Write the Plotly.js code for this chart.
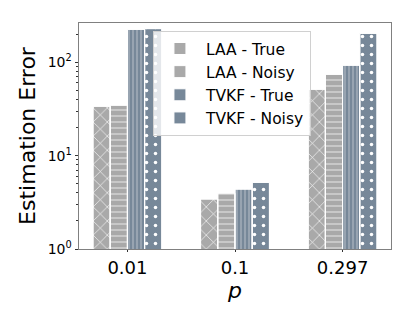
<!DOCTYPE html>
<html>
<head>
<meta charset="utf-8">
<script src="https://cdn.plot.ly/plotly-3.0.1.min.js"></script>
<style>
  html, body { margin: 0; padding: 0; background: #fff; }
  #chart { width: 415px; height: 320px; }
</style>
</head>
<body>
<div id="chart"></div>
<script>
// values (log scale)
const pValues = ['0.01', '0.1', '0.297'];
const laaTrue = [33.8, 3.43, 51.4];
const laaNoisy = [34.7, 3.97, 74.4];
const tvkfTrue = [225, 4.38, 92.9];
const tvkfNoisy = [229, 5.17, 204];
const yTickVals = [1, 10, 100];
const yTickText = ['10<sup>0</sup>', '10<sup>1</sup>', '10<sup>2</sup>'];
const yMinorVals = [2, 3, 4, 5, 6, 7, 8, 9, 20, 30, 40, 50, 60, 70, 80, 90, 200];

const laaColor = '#a9a9a9';
const tvkfColor = '#778899';
const barWidth = 0.16;

const series = [
    { name: 'LAA - True', values: laaTrue, color: laaColor, shape: 'x', size: 10 },
    { name: 'LAA - Noisy', values: laaNoisy, color: laaColor, shape: '-', size: 6 },
    { name: 'TVKF - True', values: tvkfTrue, color: tvkfColor, shape: '|', size: 4 },
    { name: 'TVKF - Noisy', values: tvkfNoisy, color: tvkfColor, shape: '.', size: 9 }
];

// solid bars underneath (these carry the legend), hatch layer on top
const traces = [];
series.forEach((s, i) => {
    const offset = -2 * barWidth + i * barWidth;
    traces.push({
        x: pValues, y: s.values, type: 'bar', name: s.name,
        width: barWidth, offset: offset,
        marker: { color: s.color, line: { color: 'white', width: 1 } }
    });
});
series.forEach((s, i) => {
    const offset = -2 * barWidth + i * barWidth;
    traces.push({
        x: pValues, y: s.values, type: 'bar', name: s.name, showlegend: false,
        width: barWidth, offset: offset,
        marker: {
            color: s.color,
            line: { color: 'white', width: 1 },
            pattern: { shape: s.shape, fgcolor: 'white', size: s.size, solidity: 0.12 }
        }
    });
});

const layout = {
    width: 415,
    height: 320,
    margin: { l: 79, r: 24, t: 23, b: 71 },
    font: { family: 'DejaVu Sans', color: '#000' },
    barmode: 'overlay',
    showlegend: true,
    xaxis: {
        type: 'category',
        range: [-0.45, 2.45],
        title: { text: '<i>p</i>', font: { size: 22 }, standoff: 0 },
        tickfont: { size: 18 },
        ticks: 'outside',
        ticklen: 2,
        tickcolor: '#333',
        showline: true,
        linecolor: '#808080',
        linewidth: 1,
        mirror: true,
        showgrid: false,
        zeroline: false
    },
    yaxis: {
        type: 'log',
        range: [0, 2.42],
        tickmode: 'array',
        tickvals: yTickVals,
        ticktext: yTickText,
        tickfont: { size: 14 },
        title: { text: 'Estimation Error', font: { size: 22 }, standoff: 5 },
        ticks: 'outside',
        ticklen: 3.5,
        tickcolor: '#333',
        minor: { tickmode: 'array', tickvals: yMinorVals, ticks: 'outside', ticklen: 2, tickcolor: '#333', showgrid: false },
        showline: true,
        linecolor: '#808080',
        linewidth: 1,
        mirror: true,
        showgrid: false,
        zeroline: false
    },
    legend: {
        x: 0.237,
        y: 0.965,
        xanchor: 'left',
        yanchor: 'top',
        font: { size: 15.5 },
        itemwidth: 42,
        bgcolor: 'rgba(255,255,255,0.8)',
        bordercolor: '#d0d0d0',
        borderwidth: 1
    },
    plot_bgcolor: '#ffffff',
    paper_bgcolor: '#ffffff'
};

Plotly.newPlot('chart', traces, layout, { displayModeBar: false });
</script>
</body>
</html>
